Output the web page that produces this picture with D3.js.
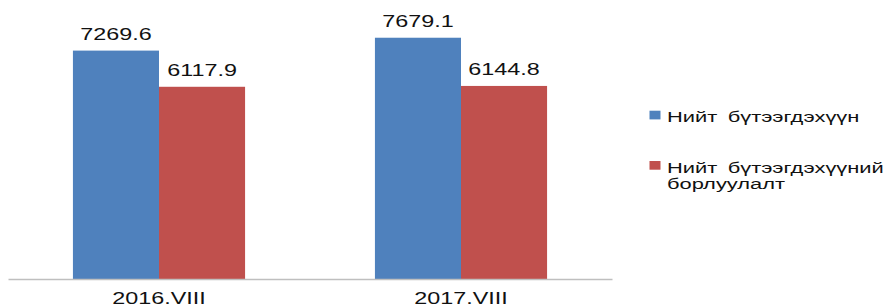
<!DOCTYPE html>
<html>
<head>
<meta charset="utf-8">
<script src="https://cdn.jsdelivr.net/npm/d3@7"></script>
<style>
  html, body { margin: 0; padding: 0; background: #fff; }
  svg { display: block; }
  text { font-family: "Liberation Sans", Arial, sans-serif; fill: #111; }
</style>
</head>
<body>
<svg id="chart" width="893" height="307"></svg>
<script>
const categories = ["2016.VIII", "2017.VIII"];
const seriesNames = ["Нийт бүтээгдэхүүн", "Нийт бүтээгдэхүүний борлуулалт"];
const legendLines = [["Нийт бүтээгдэхүүн"], ["Нийт бүтээгдэхүүний", "борлуулалт"]];
const production = [7269.6, 7679.1];
const sales = [6117.9, 6144.8];
const colors = ["#4F81BD", "#C0504D"];

const seriesValues = [production, sales];
const SX = 1.46; // horizontal stretch of the original picture

const svg = d3.select("#chart");
const baseY = 279;

const x0 = d3.scaleBand().domain(categories).range([8, 612]).paddingInner(0.43).paddingOuter(0.215);
const x1 = d3.scaleBand().domain(d3.range(seriesNames.length)).range([0, x0.bandwidth()]);
const y = d3.scaleLinear().domain([0, 8880]).range([baseY, 0]);

const data = [];
categories.forEach((c, i) => {
  seriesValues.forEach((vals, s) => data.push({ cat: c, s, v: vals[i] }));
});

svg.append("g").selectAll("rect").data(data).join("rect")
  .attr("x", d => x0(d.cat) + x1(d.s))
  .attr("y", d => y(d.v))
  .attr("width", x1.bandwidth())
  .attr("height", d => baseY - y(d.v))
  .attr("fill", d => colors[d.s]);

// value labels
svg.append("g").selectAll("text").data(data).join("text")
  .attr("transform", d => `translate(${x0(d.cat) + x1(d.s) + x1.bandwidth() / 2},${y(d.v) - 11}) scale(${SX},1)`)
  .attr("text-anchor", "middle")
  .attr("font-size", 16)
  .text(d => d.v.toFixed(1));

// x axis
const xAxis = d3.axisBottom(x0).tickSize(0).tickPadding(0);
const gx = svg.append("g").attr("transform", `translate(0,${baseY})`).call(xAxis);
gx.select(".domain").attr("stroke", "#BFBFBF").attr("stroke-width", 1.5);
gx.selectAll(".tick text")
  .attr("font-size", 16)
  .attr("font-family", "Liberation Sans, Arial, sans-serif")
  .attr("fill", "#111")
  .attr("dy", null)
  .attr("y", 0)
  .attr("transform", `translate(0,25.3) scale(${SX},1)`);

// legend
const legendTop = [110.7, 161];
const lg = svg.append("g");
legendLines.forEach((lines, i) => {
  lg.append("rect")
    .attr("x", 649.5).attr("y", legendTop[i])
    .attr("width", 11).attr("height", 8.7)
    .attr("fill", colors[i]);
  const t = lg.append("text")
    .attr("transform", `translate(667,${legendTop[i] + 11.5}) scale(${SX},1)`)
    .attr("font-size", 15)
    .style("word-spacing", "3px");
  lines.forEach((ln, k) => {
    t.append("tspan").attr("x", 0).attr("dy", k === 0 ? 0 : 16.3).text(ln);
  });
});
</script>
</body>
</html>
